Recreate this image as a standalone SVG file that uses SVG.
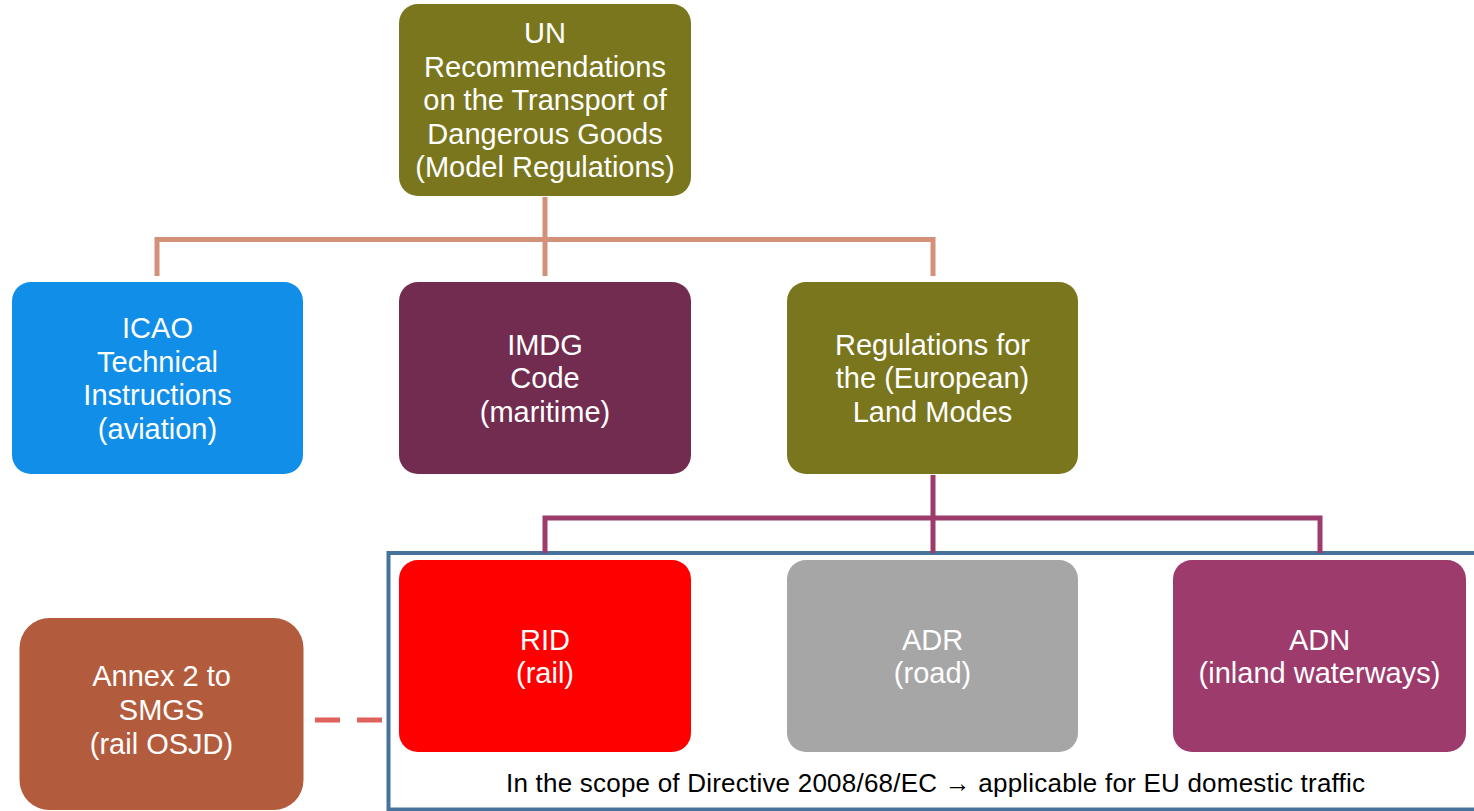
<svg xmlns="http://www.w3.org/2000/svg" width="1474" height="811" viewBox="0 0 1474 811">
<style>
.node text{font-family:"Liberation Sans",Arial,sans-serif;font-size:29px;fill:#fff;text-anchor:middle}
.lbl{font-family:"Liberation Sans",Arial,sans-serif;font-size:26px;fill:#000;text-anchor:middle}
.c1{stroke:#D4917A;stroke-width:5;fill:none}
.c2{stroke:#9C3B6C;stroke-width:5;fill:none}
.dash{stroke:#E0605A;stroke-width:5;stroke-dasharray:25 17;fill:none}
</style>
<rect width="1474" height="811" fill="#fff"/>
<g id="scope">
<rect x="388.5" y="553" width="1090" height="256.5" fill="#fff" stroke="#46729B" stroke-width="4"/>
<text class="lbl" x="935.5" y="792" textLength="859" lengthAdjust="spacing">In the scope of Directive 2008/68/EC → applicable for EU domestic traffic</text>
</g>
<g id="connectors">
<path class="c1" d="M545 197V276M157 276V239.5H933V276"/>
<path class="c2" d="M933 475V553M545 553V518H1320V553"/>
<path class="dash" d="M315 720H383"/>
</g>
<g id="un" class="node">
<rect x="399" y="4" width="292" height="192" rx="19" fill="#7A761D"/>
<text x="545" y="43">UN</text>
<text x="545" y="76.5">Recommendations</text>
<text x="545" y="110">on the Transport of</text>
<text x="545" y="143.5">Dangerous Goods</text>
<text x="545" y="177">(Model Regulations)</text>
</g>
<g id="icao" class="node">
<rect x="12" y="282" width="291" height="192" rx="19" fill="#118EE8"/>
<text x="157.5" y="338">ICAO</text>
<text x="157.5" y="371.5">Technical</text>
<text x="157.5" y="405">Instructions</text>
<text x="157.5" y="438.5">(aviation)</text>
</g>
<g id="imdg" class="node">
<rect x="399" y="282" width="292" height="192" rx="19" fill="#722C50"/>
<text x="545" y="354.5">IMDG</text>
<text x="545" y="388">Code</text>
<text x="545" y="421.5">(maritime)</text>
</g>
<g id="land" class="node">
<rect x="787" y="282" width="291" height="192" rx="19" fill="#7A761D"/>
<text x="932.5" y="354.5">Regulations for</text>
<text x="932.5" y="388">the (European)</text>
<text x="932.5" y="421.5">Land Modes</text>
</g>
<g id="rid" class="node">
<rect x="399" y="560" width="292" height="192" rx="19" fill="#FF0000"/>
<text x="545" y="649.5">RID</text>
<text x="545" y="683">(rail)</text>
</g>
<g id="adr" class="node">
<rect x="787" y="560" width="291" height="192" rx="19" fill="#A6A6A6"/>
<text x="932.5" y="649.5">ADR</text>
<text x="932.5" y="683">(road)</text>
</g>
<g id="adn" class="node">
<rect x="1173" y="560" width="293" height="192" rx="19" fill="#9C3B6C"/>
<text x="1319.5" y="649.5">ADN</text>
<text x="1319.5" y="683">(inland waterways)</text>
</g>
<g id="smgs" class="node">
<rect x="19.5" y="618" width="284" height="192" rx="30" fill="#B35B3D"/>
<text x="161.5" y="686">Annex 2 to</text>
<text x="161.5" y="720">SMGS</text>
<text x="161.5" y="754">(rail OSJD)</text>
</g>
</svg>
